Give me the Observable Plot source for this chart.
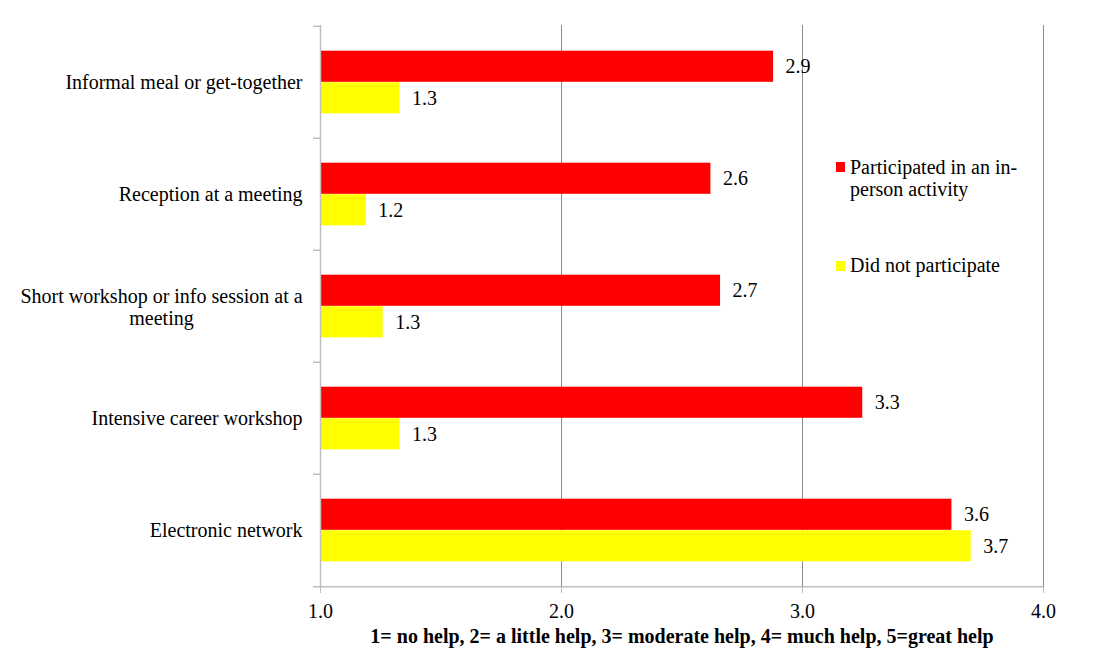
<!DOCTYPE html>
<html><head><meta charset="utf-8">
<script src="https://cdn.jsdelivr.net/npm/d3@7"></script>
<script src="https://cdn.jsdelivr.net/npm/@observablehq/plot@0.6"></script>
<style>
body{margin:0;background:#fff;font-family:"Liberation Serif","Times New Roman",serif;}
#wrap{position:relative;width:1101px;height:658px;}
.leg{position:absolute;font-family:"Liberation Serif",serif;font-size:20px;color:#000;line-height:22px;white-space:nowrap;}
.sw{position:absolute;width:9px;height:10px;}
</style></head><body><div id="wrap"></div>
<script>
const categories = ["Informal meal or get-together", "Reception at a meeting", "Short workshop or info session at a meeting", "Intensive career workshop", "Electronic network"];
const categoryLines = ["Informal meal or get-together", "Reception at a meeting", "Short workshop or info session at a\nmeeting", "Intensive career workshop", "Electronic network"];
const participated = [2.88, 2.62, 2.66, 3.25, 3.62];
const notParticipated = [1.33, 1.19, 1.26, 1.33, 3.70];
const seriesNames = ["Participated in an in-person activity", "Did not participate"];
const seriesColors = ["#ff0000", "#ffff00"];
const xTicks = [1, 2, 3, 4];
const xTitle = "1= no help, 2= a little help, 3= moderate help, 4= much help, 5=great help";

const redRows = categories.map((c, i) => ({category: c, value: participated[i]}));
const yelRows = categories.map((c, i) => ({category: c, value: notParticipated[i]}));
const wrapped = categories.map((c, i) => ({category: c, label: categoryLines[i]})).filter(d => d.label.includes("\n"));
const wrappedSet = new Set(wrapped.map(d => d.category));

const band = 112.4, half = band / 2, gap = 24.7;
const FONT = "Liberation Serif, Times New Roman, serif";

const chart = Plot.plot({
  width: 1101, height: 658,
  marginLeft: 320, marginRight: 58, marginTop: 25, marginBottom: 71,
  style: {fontFamily: FONT, fontSize: "20px", background: "#fff", color: "#000"},
  x: {domain: [1, 4]},
  y: {domain: categories, padding: 0},
  marks: [
    Plot.ruleX([2, 3, 4], {stroke: "#8c8c8c", strokeWidth: 1}),
    Plot.barX(redRows, {x1: 1, x2: "value", y: "category", fill: seriesColors[0], insetTop: gap, insetBottom: half}),
    Plot.barX(yelRows, {x1: 1, x2: "value", y: "category", fill: seriesColors[1], insetTop: half, insetBottom: gap}),
    Plot.ruleX([1], {stroke: "#bfbfbf", strokeWidth: 1.5}),
    Plot.ruleY(categories, {y: d => d, dy: -half, x1: 1, x2: 1, insetLeft: -7, stroke: "#bfbfbf", strokeWidth: 1.5}),
    Plot.ruleY(categories.slice(-1), {y: d => d, dy: half, x1: 1, x2: 4, insetLeft: -7, stroke: "#bfbfbf", strokeWidth: 1.5}),
    Plot.text(redRows, {x: "value", y: "category", text: d => d.value.toFixed(1), dx: 12, dy: -(half - gap) / 2, textAnchor: "start", fontSize: 20, fontFamily: FONT, fill: "#000"}),
    Plot.text(yelRows, {x: "value", y: "category", text: d => d.value.toFixed(1), dx: 12, dy: (half - gap) / 2, textAnchor: "start", fontSize: 20, fontFamily: FONT, fill: "#000"}),
    Plot.axisY({tickSize: 0, tickPadding: 18, fontSize: 20, fontFamily: FONT, label: null, tickFormat: d => wrappedSet.has(d) ? "" : d}),
    Plot.text(wrapped, {y: "category", text: "label", frameAnchor: "left", textAnchor: "middle", dx: -159, lineHeight: 1.1, fontSize: 20, fontFamily: FONT, fill: "#000"}),
    Plot.axisX(xTicks, {tickSize: 6, tickPadding: 10, stroke: "#bfbfbf", fontSize: 20, fontFamily: FONT, label: null, tickFormat: d => d.toFixed(1)}),
    Plot.text([xTitle], {frameAnchor: "bottom", dy: 55, fontWeight: "bold", fontSize: 20, fontFamily: FONT, fill: "#000"})
  ]
});

const wrap = document.getElementById("wrap");
wrap.appendChild(chart);
const legendPos = [{sq: 162, tx: 156, html: "Participated in an in-<br>person activity"}, {sq: 261, tx: 254, html: seriesNames[1]}];
legendPos.forEach((p, i) => {
  const s = document.createElement("div");
  s.className = "sw"; s.style.left = "836px"; s.style.top = p.sq + "px"; s.style.background = seriesColors[i];
  wrap.appendChild(s);
  const t = document.createElement("div");
  t.className = "leg"; t.style.left = "850px"; t.style.top = p.tx + "px"; t.innerHTML = p.html;
  wrap.appendChild(t);
});
</script>
</body></html>
